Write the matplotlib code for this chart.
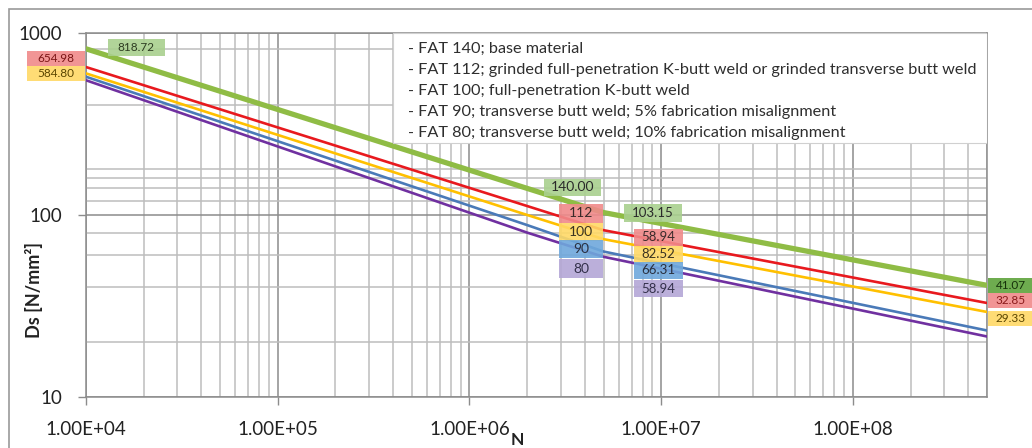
import numpy as np
import matplotlib
matplotlib.use("Agg")
import matplotlib.pyplot as plt
import matplotlib.transforms as mtransforms
from matplotlib.patches import Rectangle
from matplotlib.ticker import FixedLocator, LogLocator, NullFormatter

plt.rcParams['font.family'] = ['Lato', 'DejaVu Sans']

# Curvas S-N (puntos de quiebre)
N_pts = [1e4, 2e6, 5e6, 5e8]
fat140 = [818.72, 140.00, 103.15, 41.07]
fat112 = [650.0, 112.0, 82.52, 32.85]
fat100 = [600.0, 100.0, 73.68, 29.33]
fat90 = [575.0, 88.0, 63.0, 23.2]
fat80 = [550.0, 80.0, 58.94, 21.5]

legend_lines = [
    "- FAT 140; base material",
    "- FAT 112; grinded full-penetration K-butt weld or grinded transverse butt weld",
    "- FAT 100; full-penetration K-butt weld",
    "- FAT 90; transverse butt weld; 5% fabrication misalignment",
    "- FAT 80; transverse butt weld; 10% fabrication misalignment",
]

x_ticks = [1e4, 1e5, 1e6, 1e7, 1e8]
x_ticklabels = ["1.00E+04", "1.00E+05", "1.00E+06", "1.00E+07", "1.00E+08"]
y_ticks = [10, 100, 1000]
y_ticklabels = ["10", "100", "1000"]
y_minor_grid = [20, 40, 60, 80, 120, 140, 160, 180, 400, 818.72]

# etiquetas: (N, valor del punto, texto, dx, dy, ancho, alto, fondo, color texto)
lbl_left = [
    (1e4, 818.72, "818.72", 50, 1, 57, 17, "#a9d08e", "#2e3d22"),
    (1e4, 654.98, "654.98", -30, 8, 58, 15, "#f08a8a", "#7a1515"),
    (1e4, 584.80, "584.80", -30, 2, 58, 15, "#ffd966", "#5a4500"),
]
lbl_2e6 = [
    (2e6, 140.00, "140.00", 45, 1, 57, 17, "#a9d08e", "#2a2a2a"),
    (2e6, 112.0, "112", 54, -7, 44, 19, "#f08a8a", "#3a2a2a"),
    (2e6, 100.0, "100", 54, -17, 44, 18, "#ffd966", "#3a3320"),
    (2e6, 90.0, "90", 54, -26, 44, 18, "#6fa8dc", "#2a3040"),
    (2e6, 80.0, "80", 54, -36, 44, 19, "#b4a7d6", "#33304a"),
]
lbl_5e6 = [
    (5e6, 103.15, "103.15", 49, 0, 58, 18, "#a9d08e", "#2a2a2a"),
    (5e6, 82.52, "58.94", 55, -7, 49, 17, "#f08a8a", "#3a2a2a"),
    (5e6, 73.68, "82.52", 55, -15, 49, 17, "#ffd966", "#3a3320"),
    (5e6, 66.31, "66.31", 55, -23, 49, 17, "#6fa8dc", "#2a3040"),
    (5e6, 58.94, "58.94", 55, -32, 49, 17, "#b4a7d6", "#33304a"),
]
lbl_right = [
    (5e8, 41.07, "41.07", 24, 0, 46, 15, "#5ea33c", "#15300a"),
    (5e8, 32.85, "32.85", 24, 2, 46, 15, "#f08a8a", "#8a1a1a"),
    (5e8, 29.33, "29.33", 24, -7, 46, 15, "#ffd966", "#5a4500"),
]

DPI = 100
fig = plt.figure(figsize=(10.32, 4.48), dpi=DPI)
ax = fig.add_axes([86 / 1032, 51 / 448, 901 / 1032, 364 / 448])

ax.plot(N_pts, fat112, color="#e8191e", linewidth=1.9, zorder=3)
ax.plot(N_pts, fat100, color="#ffc000", linewidth=1.9, zorder=3)
ax.plot(N_pts, fat90, color="#4a7ab8", linewidth=1.9, zorder=3)
ax.plot(N_pts, fat80, color="#7030a0", linewidth=1.9, zorder=3)
ax.plot(N_pts, fat140, color="#8fbc45", linewidth=3.8, zorder=4)

ax.set_xscale("log")
ax.set_yscale("log")
ax.set_xlim(1e4, 5e8)
ax.set_ylim(10, 1000)

ax.set_xticks(x_ticks)
ax.set_xticklabels(x_ticklabels)
ax.set_yticks(y_ticks)
ax.set_yticklabels(y_ticklabels)
ax.xaxis.set_minor_locator(LogLocator(base=10, subs=np.arange(2, 10)))
ax.xaxis.set_minor_formatter(NullFormatter())
ax.yaxis.set_minor_locator(FixedLocator(y_minor_grid))
ax.yaxis.set_minor_formatter(NullFormatter())
ax.tick_params(which="major", length=6, width=1, color="#8c8c8c", pad=11,
               labelsize=13.5, labelcolor="#222222")
ax.tick_params(which="minor", length=0)

ax.grid(True, which="major", color="#8c8c8c", linewidth=1.1, zorder=0)
ax.grid(True, which="minor", color="#bdbdbd", linewidth=1.1, zorder=0)
ax.set_axisbelow(True)
for s in ax.spines.values():
    s.set_color("#8c8c8c")
    s.set_linewidth(1.1)

# cuadro de leyenda (solo texto)
lx0 = (393 - 86) / 901
ly0 = (397 - 143) / 364
ax.add_patch(Rectangle((lx0, ly0), 1 - lx0, 1 - ly0, transform=ax.transAxes,
                       facecolor="white", edgecolor="#d0d0d0", linewidth=0.8, zorder=6))
for i, line in enumerate(legend_lines):
    yy = 448 - (49 + 21 * i)
    fig.text(408 / 1032, yy / 448, line, fontsize=11.7, color="#2e2e2e",
             ha="left", va="center", zorder=7)


def data_box(n, v, text, dx, dy, w, h, fc, tc, fs=8.5):
    trans = fig.dpi_scale_trans + mtransforms.ScaledTranslation(n, v, ax.transData)
    r = Rectangle(((dx - w / 2) / DPI, (dy - h / 2) / DPI), w / DPI, h / DPI,
                  transform=trans, facecolor=fc, edgecolor="none",
                  clip_on=False, zorder=8, alpha=0.9)
    ax.add_patch(r)
    ax.text(dx / DPI, dy / DPI, text, transform=trans, ha="center", va="center",
            fontsize=fs, color=tc, zorder=9, clip_on=False)


for group, fs in [(lbl_left, 8.5), (lbl_2e6, 10), (lbl_5e6, 9.5), (lbl_right, 8.5)]:
    for (n, v, t, dx, dy, w, h, fc, tc) in group:
        data_box(n, v, t, dx, dy, w, h, fc, tc, fs)

fig.text(34 / 1032, 1 - 290 / 448, "Ds [N/mm²]", rotation=90, fontsize=13,
         fontweight="bold", ha="center", va="center", color="#222222")
fig.text(517 / 1032, 1 - 440 / 448, "N", fontsize=12.5, fontweight="bold",
         ha="center", va="center", color="#222222")

# borde del área del gráfico
fig.add_artist(Rectangle((9 / 1032, -0.05), 1.05, 1 - 9 / 448 + 0.05,
                         transform=fig.transFigure, fill=False,
                         edgecolor="#9a9a9a", linewidth=1.2))

fig.savefig("out.png", dpi=DPI)
